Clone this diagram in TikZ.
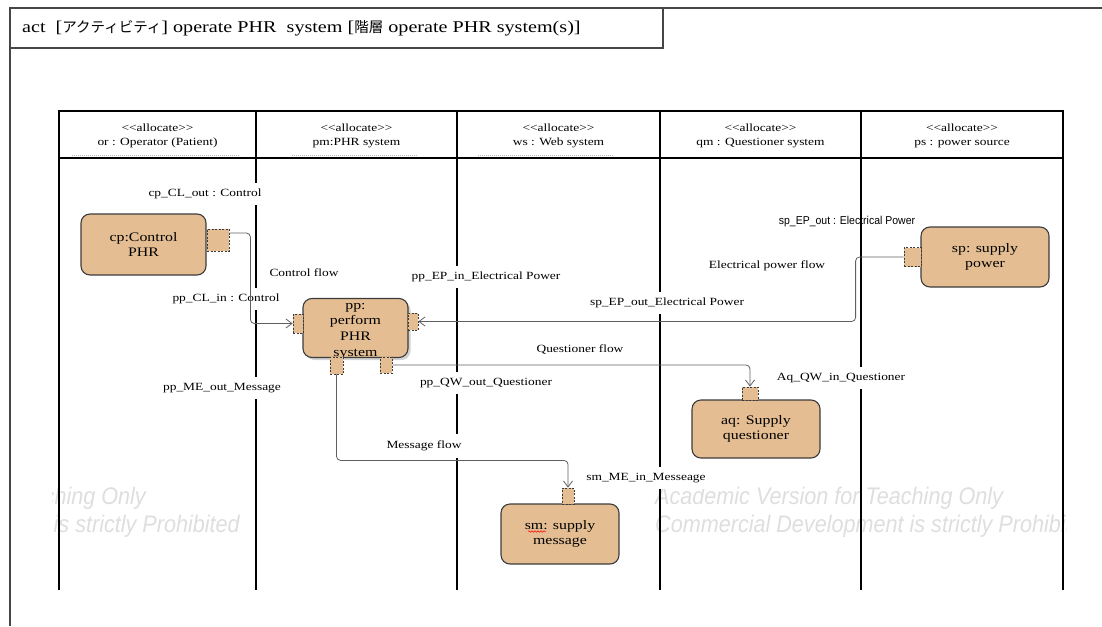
\documentclass[tikz,border=0pt]{standalone}
\usepackage{fontspec}
\setmainfont{Liberation Serif}[FakeStretch=1.22]
\newfontfamily\jpfont{Noto Sans CJK JP}
\newfontfamily\narrowsans{Liberation Sans}[FakeStretch=0.92]
\newfontfamily\wmfont{Liberation Sans}[FakeStretch=0.9]
\usetikzlibrary{arrows.meta,shadows,decorations.pathmorphing}

\definecolor{boxfill}{RGB}{228,190,146}
\definecolor{boxedge}{RGB}{60,60,60}
\definecolor{flowline}{RGB}{95,95,95}
\definecolor{wmgray}{RGB}{222,222,222}
\definecolor{framegray}{RGB}{70,70,70}

\tikzset{
  action/.style={draw=boxedge, line width=1.1pt, fill=boxfill, rounded corners=9pt,
    align=center, font=\fontsize{13}{15.7}\selectfont, inner sep=0pt},
  boxtext/.style={align=center, font=\fontsize{13}{15.7}\selectfont, inner sep=0pt},
  portbox/.style={draw=boxedge, dash pattern=on 2pt off 1.5pt, line width=0.8pt,
    fill=boxfill, inner sep=0pt},
  flow/.style={draw=flowline, line width=0.8pt, rounded corners=4pt,
    -{Straight Barb[length=6pt,width=9pt]}},
  lbl/.style={font=\fontsize{11}{13}\selectfont, inner sep=0pt},
  gaplbl/.style={lbl, fill=white, inner xsep=2pt, inner ysep=6.5pt},
  lane/.style={line width=1.8pt, black},
  hdr/.style={align=center, font=\fontsize{11}{14}\selectfont, inner sep=0pt},
  wm/.style={font=\wmfont\fontsize{24}{26}\selectfont\itshape, text=wmgray, inner sep=0pt},
  hdrline/.style={draw=gray!55, dash pattern=on 1pt off 1pt, line width=0.6pt},
}

\begin{document}
\begin{tikzpicture}[x=1pt,y=-1pt]
\useasboundingbox (0,0) rectangle (1102,626);

% evaluation watermark behind the partitions
\begin{scope}
  \clip (52,0) rectangle (1066,626);
  \node[wm, anchor=east] (wmL1) at (146,498) {Academic Version for Teaching Only};
  \node[wm, anchor=east] (wmL2) at (240,526) {Commercial Development is strictly Prohibited};
  \node[wm, anchor=west] (wmR1) at (655,498) {Academic Version for Teaching Only};
  \node[wm, anchor=west] (wmR2) at (655,526) {Commercial Development is strictly Prohibited};
\end{scope}

% diagram frame and title tab
\draw[framegray, line width=1.2pt] (1102,8) -- (10,8) -- (10,626);
\draw[framegray, line width=1.2pt] (10,8) rectangle (663,48);
\node[anchor=west, font=\fontsize{16.5}{18}\selectfont, inner sep=0pt] (title) at (22,28.5)
  {act\ \ [{\jpfont\fontsize{14.5}{16}\selectfont アクティビティ}] operate PHR\ \ system [{\jpfont\fontsize{14.5}{16}\selectfont 階層} operate PHR system(s)]};

% allocation partitions
\draw[lane] (59,590) -- (59,111) -- (1063,111) -- (1063,590);
\draw[lane] (59,158) -- (1063,158);
\foreach \lx in {256,457,660,861} { \draw[lane] (\lx,111) -- (\lx,590); }

\node[hdr] (h1) at (157.5,136) {<{}<allocate>{}>\\or : Operator (Patient)};
\node[hdr] (h2) at (356.5,136) {<{}<allocate>{}>\\pm:PHR system};
\node[hdr] (h3) at (558.5,136) {<{}<allocate>{}>\\ws : Web system};
\node[hdr] (h4) at (760.5,136) {<{}<allocate>{}>\\qm : Questioner system};
\node[hdr] (h5) at (962,136) {<{}<allocate>{}>\\ps : power source};
\draw[hdrline] (72,155.5) -- (240,155.5);
\draw[hdrline] (292,155.5) -- (418,155.5);
\draw[hdrline] (478,155.5) -- (614,155.5);

% pin and flow labels
\node[gaplbl] (lcpout) at (205,194) {cp\_CL\_out : Control};
\node[lbl] (lctrl) at (304,273) {Control flow};
\node[gaplbl] (lppin) at (226,299) {pp\_CL\_in : Control};
\node[gaplbl] (lppep) at (486,277) {pp\_EP\_in\_Electrical Power};
\node[gaplbl] (lspep) at (667,303) {sp\_EP\_out\_Electrical Power};
\node[inner sep=0pt, font=\narrowsans\fontsize{11.4}{13}\selectfont] (lspout) at (847,222) {sp\_EP\_out : Electrical Power};
\node[lbl] (lepf) at (767,266) {Electrical power flow};
\node[lbl] (lqf) at (580,350) {Questioner flow};
\node[gaplbl] (lqw) at (486,383) {pp\_QW\_out\_Questioner};
\node[gaplbl] (laq) at (841,378) {Aq\_QW\_in\_Questioner};
\node[gaplbl] (lmf) at (424,446) {Message flow};
\node[gaplbl] (lsm) at (646,478) {sm\_ME\_in\_Messeage};
\node[gaplbl] (lme) at (222,388) {pp\_ME\_out\_Message};

% actions
\node[action, minimum width=125, minimum height=61] (cp) at (143.5,244.5) {cp:Control\\PHR};
\node[action, minimum width=105, minimum height=59,
      drop shadow={opacity=0.35, shadow xshift=2.5pt, shadow yshift=-2.5pt}] (pp) at (355.5,328) {};
\node[boxtext] (pptext) at ([yshift=-3pt]pp.center) {pp:\\perform\\PHR\\system};
\node[action, minimum width=128, minimum height=60] (sp) at (985,257) {sp: supply\\power};
\node[action, minimum width=128, minimum height=58] (aq) at (756,429) {aq: Supply\\questioner};
\node[action, minimum width=118, minimum height=60] (sm) at (560,534) {sm: supply\\message};
\draw[red, line width=0.5pt, decorate, decoration={snake, amplitude=0.8pt, segment length=3pt}]
  (528,531.5) -- (546,531.5);

% pins
\node[portbox, minimum width=22, minimum height=22] (cpo) at (218,240) {};
\node[portbox, minimum width=10, minimum height=19] (ppl) at (298,323.5) {};
\node[portbox, minimum width=10, minimum height=17] (ppr) at (413,321.5) {};
\node[portbox, minimum width=13, minimum height=17] (ppb1) at (336.5,365.5) {};
\node[portbox, minimum width=12, minimum height=16] (ppb2) at (386,365) {};
\node[portbox, minimum width=17, minimum height=19] (spp) at (912.5,257) {};
\node[portbox, minimum width=16, minimum height=13] (aqp) at (750,393.5) {};
\node[portbox, minimum width=12, minimum height=16] (smp) at (568,496) {};

% object flows
\draw[flow] ([yshift=7pt]cpo.east) -- ++(21,0) |- (ppl.west);
\draw[flow] (spp.west) -- ++(-48,0) |- (ppr.east);
\draw[flow] (ppb2.east) -| (aqp.north);
\draw[flow] (ppb1.south) -- ++(0,86) -| (smp.north);
\end{tikzpicture}
\end{document}
